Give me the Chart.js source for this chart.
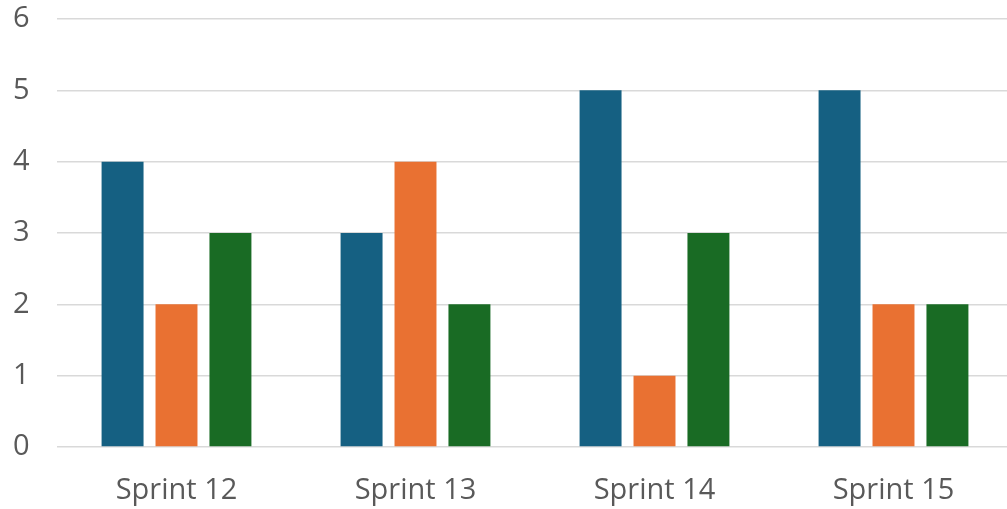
<!DOCTYPE html>
<html>
<head>
<meta charset="utf-8">
<script src="https://cdn.jsdelivr.net/npm/chart.js@4.4.1/dist/chart.umd.min.js"></script>
<style>
  html, body { margin: 0; padding: 0; background: #fff; overflow: hidden; }
  canvas { display: block; }
</style>
</head>
<body>
<canvas id="myChart" width="1013" height="509"></canvas>
<script>
// chart data
const categories = ['Sprint 12', 'Sprint 13', 'Sprint 14', 'Sprint 15'];
const seriesA = [4, 3, 5, 5];
const seriesB = [2, 4, 1, 2];
const seriesC = [3, 2, 3, 2];
const yTicks = [0, 1, 2, 3, 4, 5, 6];

const colors = ['#156082', '#E97132', '#196B24'];

const data = {
  labels: categories,
  datasets: [
    { label: 'A', data: seriesA, backgroundColor: colors[0] },
    { label: 'B', data: seriesB, backgroundColor: colors[1] },
    { label: 'C', data: seriesC, backgroundColor: colors[2] }
  ]
};

const config = {
  type: 'bar',
  data,
  options: {
    responsive: false,
    animation: false,
    categoryPercentage: 0.677,
    barPercentage: 0.778,
    layout: { padding: { top: 19, left: 13, right: 0, bottom: 2 } },
    plugins: {
      legend: { display: false },
      tooltip: { enabled: false }
    },
    scales: {
      x: {
        afterFit: (axis) => { axis.height = 60; },
        grid: { display: false },
        border: { display: false },
        ticks: {
          color: '#595959',
          font: { family: 'Open Sans', size: 29 },
          padding: 18
        }
      },
      y: {
        min: 0,
        max: 6,
        afterBuildTicks: (axis) => { axis.ticks = yTicks.map(v => ({ value: v })); },
        afterFit: (axis) => { axis.width = 44; },
        grid: { color: '#D9D9D9', lineWidth: 1.5, drawTicks: false },
        border: { display: false },
        ticks: {
          color: '#595959',
          font: { family: 'Open Sans', size: 29 },
          padding: 0,
          crossAlign: 'far'
        }
      }
    }
  }
};

const myChart = new Chart(document.getElementById('myChart'), config);
</script>
</body>
</html>
